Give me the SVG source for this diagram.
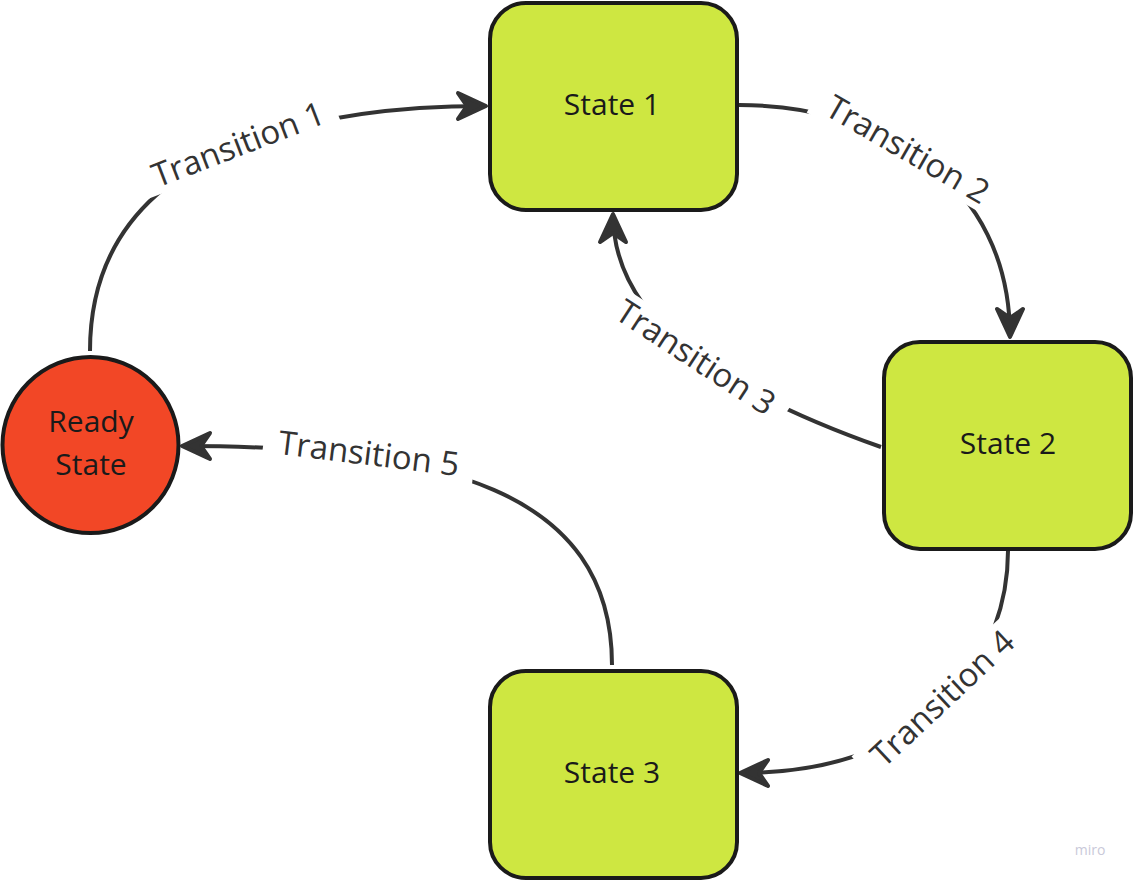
<svg xmlns="http://www.w3.org/2000/svg" width="1134" height="881" viewBox="0 0 1134 881">
<style>
.node{fill:#CEE741;stroke:#1a1a1a;stroke-width:4}
.ready{fill:#F24726;stroke:#1a1a1a;stroke-width:4}
.ntxt{font-family:"Open Sans","Liberation Sans",sans-serif;font-size:30px;fill:#1a1a1a;text-anchor:middle}
.edge{fill:none;stroke:#333333;stroke-width:4;marker-end:url(#arr)}
.ltxt{font-family:"Open Sans","Liberation Sans",sans-serif;font-size:33px;fill:#333333;text-anchor:middle}
.lbg{fill:#ffffff}
</style>
<defs>
<marker id="arr" markerUnits="userSpaceOnUse" markerWidth="40" markerHeight="40" viewBox="-34 -20 40 40" refX="0" refY="0" orient="auto">
<path d="M0,0 L-28,-13 L-19,0 L-28,13 Z" fill="#333333" stroke="#333333" stroke-width="4" stroke-linejoin="round"/>
</marker>
</defs>
<rect width="1134" height="881" fill="#ffffff"/>
<g id="connectors">
<path class="edge" d="M90,351 C90,140 330,106 486,106"/>
<path class="edge" d="M739,105 C880,105 1010,180 1010,337"/>
<path class="edge" d="M881,447 C720,390 613,320 613,214"/>
<path class="edge" d="M1008,551 C1008,650 940,773 740,773"/>
<path class="edge" d="M612,665 C612,490 440,446 182,446"/>
<g transform="translate(238,144) rotate(-21)"><rect class="lbg" x="-104" y="-19" width="208" height="38"/><text class="ltxt" x="0" y="12">Transition 1</text></g>
<g transform="translate(908,149) rotate(30)"><rect class="lbg" x="-106" y="-19" width="212" height="38"/><text class="ltxt" x="0" y="12">Transition 2</text></g>
<g transform="translate(696,357) rotate(33)"><rect class="lbg" x="-106" y="-19" width="212" height="38"/><text class="ltxt" x="0" y="12">Transition 3</text></g>
<g transform="translate(942,698) rotate(-43)"><rect class="lbg" x="-106" y="-19" width="212" height="38"/><text class="ltxt" x="0" y="12">Transition 4</text></g>
<g transform="translate(369,453) rotate(7)"><rect class="lbg" x="-106" y="-19" width="212" height="38"/><text class="ltxt" x="0" y="12">Transition 5</text></g>
</g>
<g id="ready">
<circle class="ready" cx="90.5" cy="445" r="88"/>
<text class="ntxt" x="91" y="432">Ready</text>
<text class="ntxt" x="91" y="475">State</text>
</g>
<g id="state1">
<rect class="node" x="490" y="3" width="247" height="207" rx="36"/>
<text class="ntxt" x="612" y="115">State 1</text>
</g>
<g id="state2">
<rect class="node" x="884" y="342" width="247" height="207" rx="36"/>
<text class="ntxt" x="1008" y="454">State 2</text>
</g>
<g id="state3">
<rect class="node" x="490" y="671" width="247" height="207" rx="36"/>
<text class="ntxt" x="612" y="783">State 3</text>
</g>
<text x="1090" y="855" font-family="Open Sans, Liberation Sans, sans-serif" font-size="14" fill="#c9c9d9" text-anchor="middle">miro</text>
</svg>
